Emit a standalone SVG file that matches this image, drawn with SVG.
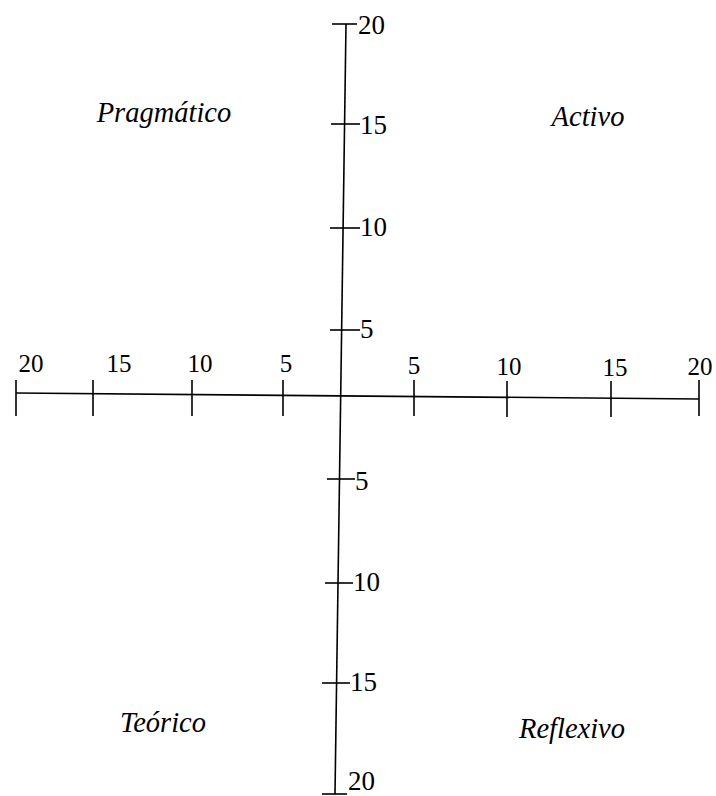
<svg xmlns="http://www.w3.org/2000/svg" width="716" height="796" viewBox="0 0 716 796">
<style>
.ax{stroke:#000;stroke-width:1.6;fill:none}
text{font-family:"Times New Roman","Liberation Serif","DejaVu Serif",serif;fill:#000}
.hn{font-size:25px;text-anchor:middle}
.vn{font-size:27px}
.lb{font-size:28.5px;font-style:italic;text-anchor:middle}
</style>
<rect width="716" height="796" fill="#fff"/>
<g id="connectors">
<line id="x-axis" class="ax" x1="16" y1="393" x2="699" y2="399"/>
<line id="y-axis" class="ax" x1="346" y1="24" x2="335" y2="794"/>
<g id="x-ticks">
<line class="ax" x1="16" y1="380" x2="16" y2="416"/>
<line class="ax" x1="93" y1="380" x2="93" y2="416"/>
<line class="ax" x1="192" y1="380" x2="192" y2="416"/>
<line class="ax" x1="283" y1="380" x2="283" y2="416"/>
<line class="ax" x1="414" y1="380" x2="414" y2="416"/>
<line class="ax" x1="507" y1="381" x2="507" y2="417"/>
<line class="ax" x1="611" y1="381" x2="611" y2="417"/>
<line class="ax" x1="699" y1="380" x2="699" y2="416"/>
</g>
<g id="y-ticks">
<line class="ax" x1="332" y1="24" x2="357" y2="24"/>
<line class="ax" x1="331" y1="124" x2="360" y2="124"/>
<line class="ax" x1="330" y1="228" x2="360" y2="228"/>
<line class="ax" x1="330" y1="330" x2="360" y2="330"/>
<line class="ax" x1="327" y1="479" x2="355" y2="479"/>
<line class="ax" x1="325" y1="583" x2="353" y2="583"/>
<line class="ax" x1="322" y1="683" x2="350" y2="683"/>
<line class="ax" x1="322" y1="794" x2="347" y2="794"/>
</g>
</g>
<g id="x-labels">
<text class="hn" x="31" y="372">20</text>
<text class="hn" x="119" y="372">15</text>
<text class="hn" x="200" y="372">10</text>
<text class="hn" x="286" y="372">5</text>
<text class="hn" x="414" y="374">5</text>
<text class="hn" x="509" y="375">10</text>
<text class="hn" x="615" y="376">15</text>
<text class="hn" x="700" y="375">20</text>
</g>
<g id="y-labels">
<text class="vn" x="358" y="34">20</text>
<text class="vn" x="360" y="134">15</text>
<text class="vn" x="360" y="236">10</text>
<text class="vn" x="360" y="338">5</text>
<text class="vn" x="355" y="490">5</text>
<text class="vn" x="353" y="591">10</text>
<text class="vn" x="350" y="691">15</text>
<text class="vn" x="348" y="790">20</text>
</g>
<g id="pragmatico"><text class="lb" x="164" y="122">Pragmático</text></g>
<g id="activo"><text class="lb" x="588" y="126">Activo</text></g>
<g id="teorico"><text class="lb" x="163" y="732">Teórico</text></g>
<g id="reflexivo"><text class="lb" x="572" y="738">Reflexivo</text></g>
</svg>
